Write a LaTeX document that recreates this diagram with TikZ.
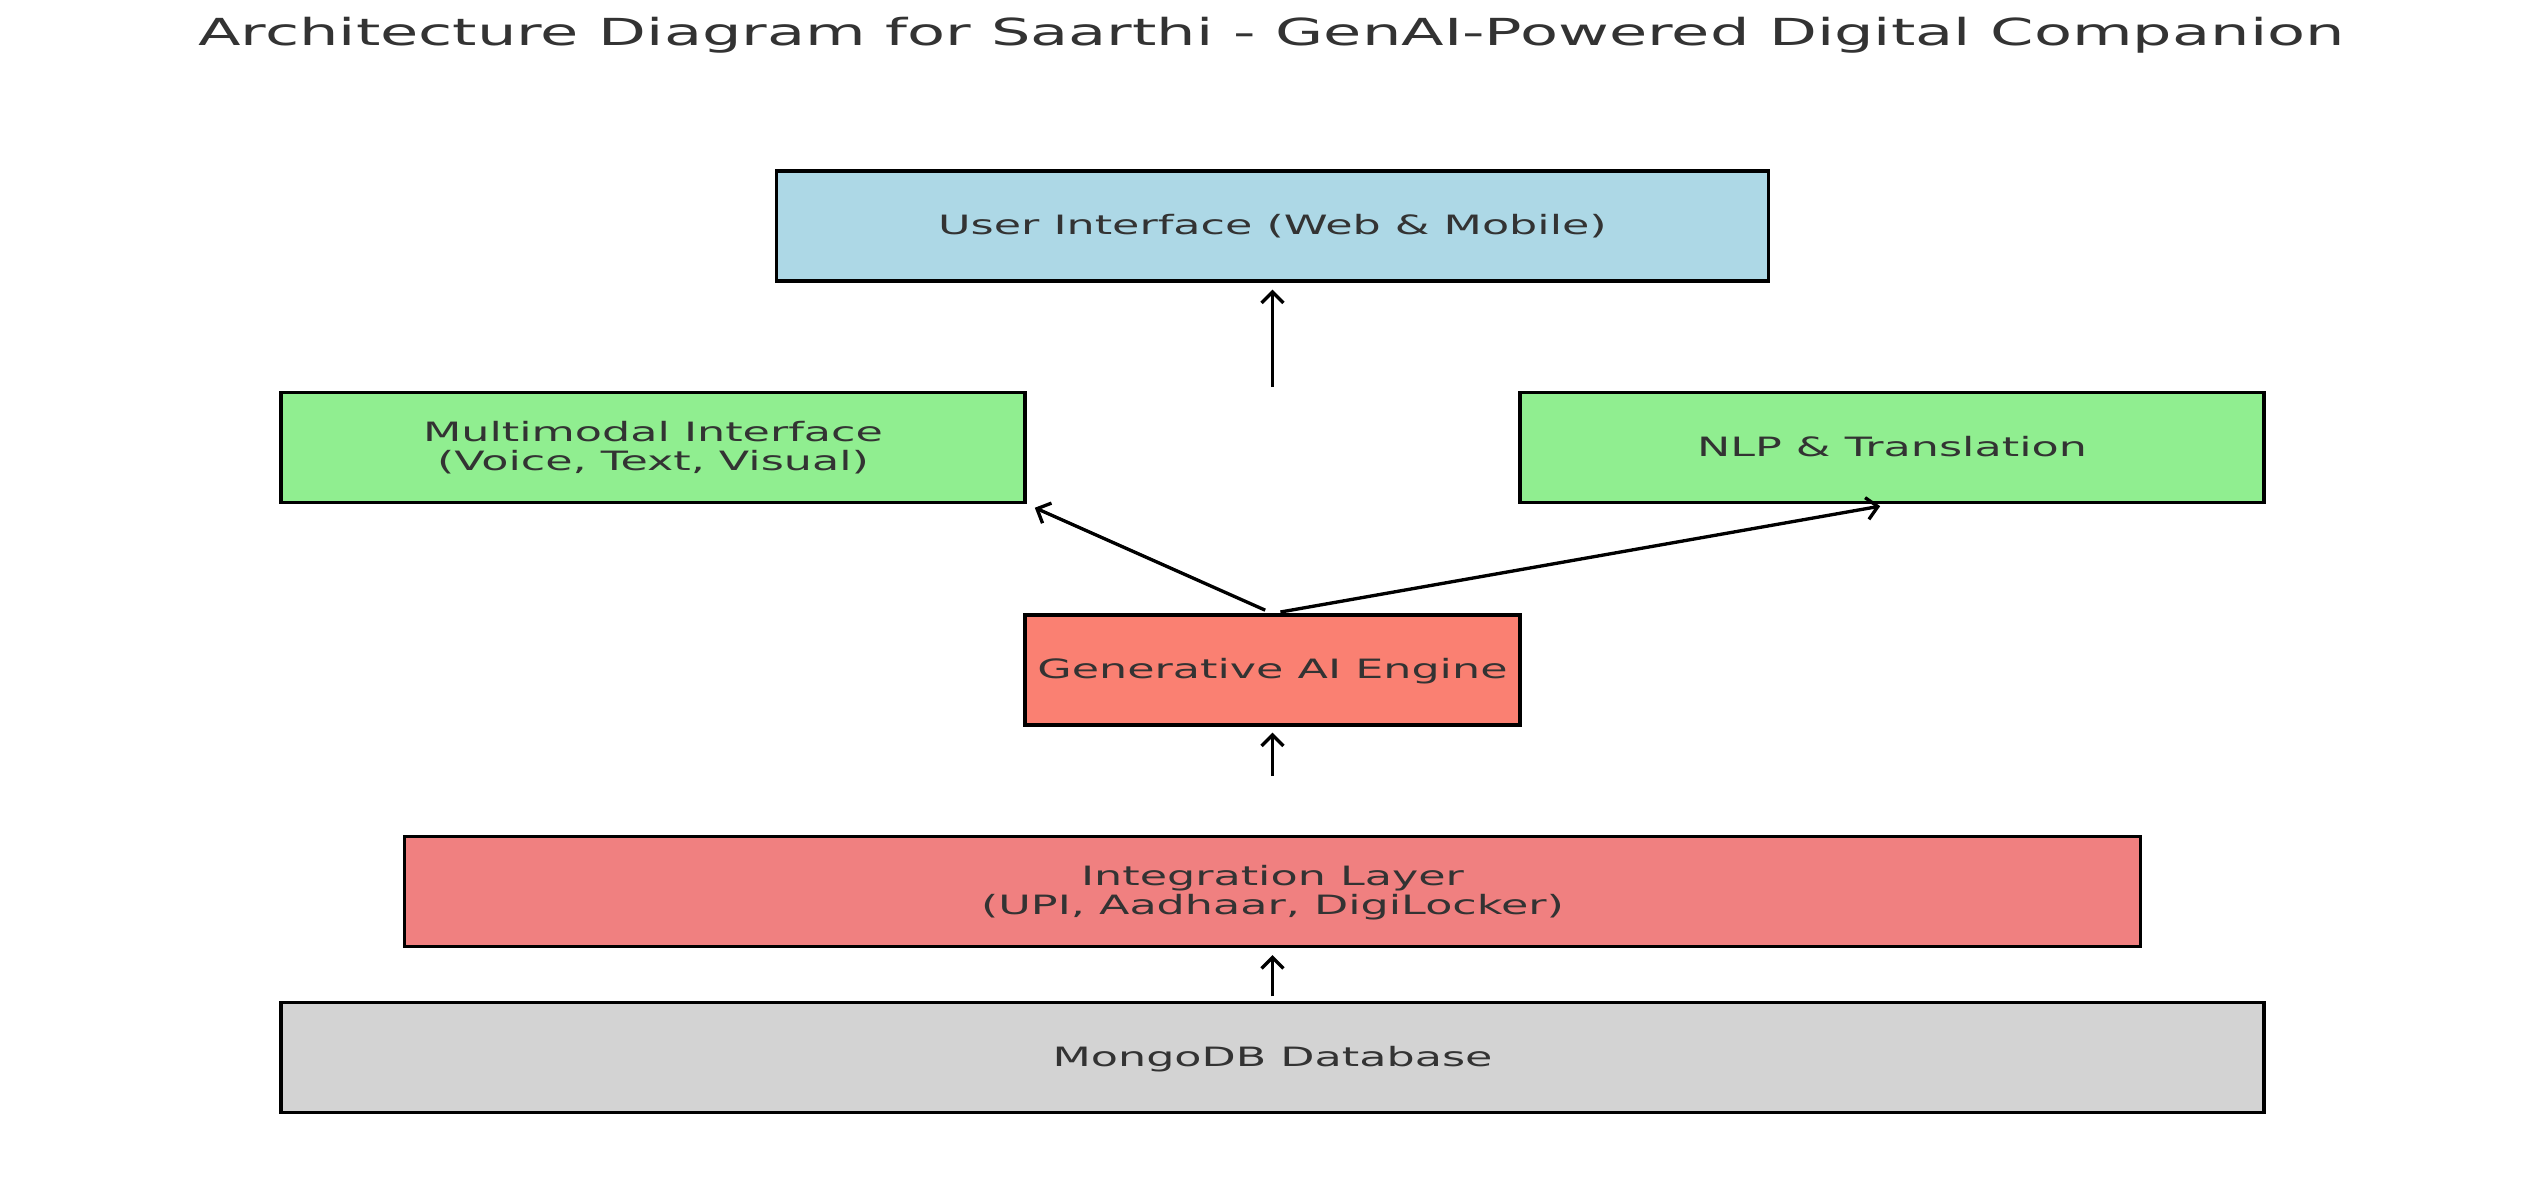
\documentclass[tikz,border=0pt]{standalone}
\usepackage{fontspec}
\setmainfont[FakeStretch=1.67]{DejaVu Sans}
\usepackage{tikz}
\usetikzlibrary{arrows.meta,positioning,calc}

\definecolor{txtgray}{HTML}{333333}
\definecolor{uiblue}{HTML}{ADD8E6}
\definecolor{modgreen}{HTML}{90EE90}
\definecolor{gensalmon}{HTML}{FA8072}
\definecolor{intcoral}{HTML}{F08080}
\definecolor{dbgray}{HTML}{D3D3D3}

\tikzset{
  layer/.style={draw=black,line width=0.9pt,minimum height=1.10cm,inner sep=0pt,
    align=center,text depth=0.9pt,text=txtgray,font=\fontsize{7.57}{8.3}\selectfont},
  arr/.style={-{Straight Barb[length=0.11cm,width=0.22cm]},line width=0.95pt,black}
}

\begin{document}
\begin{tikzpicture}
\useasboundingbox (0,0) rectangle (25.42,-11.86);
\node[anchor=base,text=txtgray,font=\fontsize{10.6}{12}\selectfont] (title) at (12.715,-0.45)
  {Architecture Diagram for Saarthi - GenAI-Powered Digital Companion};
% layers
\node[layer,fill=uiblue,minimum width=9.92cm] (ui) at (12.725,-2.26) {User Interface (Web \& Mobile)};
\node[layer,fill=modgreen,minimum width=7.44cm] (mm) at (6.53,-4.475) {Multimodal Interface\\(Voice, Text, Visual)};
\node[layer,fill=modgreen,minimum width=7.44cm] (nlp) at (18.92,-4.475) {NLP \& Translation};
\node[layer,fill=gensalmon,minimum width=4.95cm] (gen) at (12.725,-6.70) {Generative AI Engine};
\node[layer,fill=intcoral,minimum width=17.36cm] (integ) at (12.725,-8.915) {Integration Layer\\(UPI, Aadhaar, DigiLocker)};
\node[layer,fill=dbgray,minimum width=19.83cm] (db) at (12.725,-10.575) {MongoDB Database};
% arrows
\coordinate (uifoot) at (ui.south |- 0,-3.87);
\coordinate (genfoot) at (gen.south |- 0,-7.76);
\draw[arr,shorten >=0.07cm] (uifoot) -- (ui.south);
\draw[arr,shorten <=0.08cm,shorten >=0.09cm] (gen.north) -- (mm.south east);
\draw[arr,shorten <=0.08cm,shorten >=0.12cm] (gen.north) -- (nlp.south);
\draw[arr,shorten >=0.06cm] (genfoot) -- (gen.south);
\draw[arr,shorten <=0.045cm,shorten >=0.07cm] (db.north) -- (integ.south);
\end{tikzpicture}
\end{document}
